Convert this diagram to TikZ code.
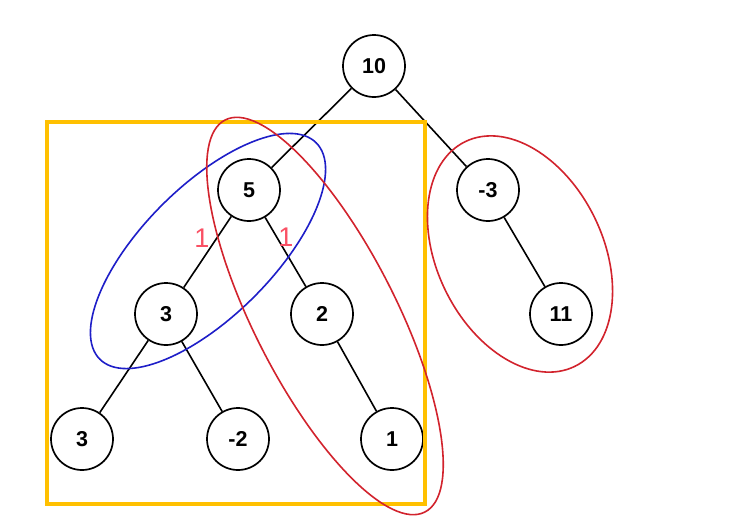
\documentclass[tikz,border=0pt]{standalone}
\usepackage{fontspec}
\setmainfont{Liberation Sans}
\definecolor{boxorange}{RGB}{255,192,0}
\definecolor{ringblue}{RGB}{30,30,200}
\definecolor{ringred}{RGB}{210,35,45}
\definecolor{lblpink}{RGB}{250,80,100}
\tikzset{
  tnode/.style={circle,draw=black,fill=white,line width=1.7pt,minimum size=62pt,inner sep=0pt,font=\fontsize{21.5}{25}\selectfont\bfseries},
  tedge/.style={draw=black,line width=1.6pt},
  ring/.style={line width=1.6pt},
  wlabel/.style={text=lblpink,font=\fontsize{27}{30}\selectfont,inner sep=0pt}
}
\begin{document}
\begin{tikzpicture}[x=1pt,y=-1pt]
\useasboundingbox (0,0) rectangle (733,528);
\fill[white] (0,0) rectangle (733,528);
\node[tnode] (n10) at (374,66) {10};
\node[tnode] (n5) at (249,190) {5};
\node[tnode] (nm3) at (488,190) {-3};
\node[tnode] (n3a) at (166,314) {3};
\node[tnode] (n2) at (322,314) {2};
\node[tnode] (n11) at (561,314) {11};
\node[tnode] (n3b) at (82,439) {3};
\node[tnode] (nm2) at (238,439) {-2};
\node[tnode] (n1) at (392,439) {1};
\draw[tedge] (n10) -- (n5);
\draw[tedge] (n10) -- (nm3);
\draw[tedge] (n5) -- (n3a);
\draw[tedge] (n5) -- (n2);
\draw[tedge] (n3a) -- (n3b);
\draw[tedge] (n3a) -- (nm2);
\draw[tedge] (n2) -- (n1);
\draw[tedge] (nm3) -- (n11);
\node[wlabel] (la) at (202,238) {1};
\node[wlabel] (lb) at (286,237) {1};
\draw[draw=boxorange,line width=4pt] (47,122) rectangle (425,504);
\begin{scope}[shift={(208,251)},rotate=45]
\draw[ring,draw=ringblue] (0,0) ellipse [x radius=153pt,y radius=65pt];
\end{scope}
\begin{scope}[shift={(325,316)},rotate=-63]
\draw[ring,draw=ringred] (0,0) ellipse [x radius=220pt,y radius=71pt];
\end{scope}
\begin{scope}[shift={(520,254)},rotate=-64]
\draw[ring,draw=ringred] (0,0) ellipse [x radius=125pt,y radius=83pt];
\end{scope}
\end{tikzpicture}
\end{document}
